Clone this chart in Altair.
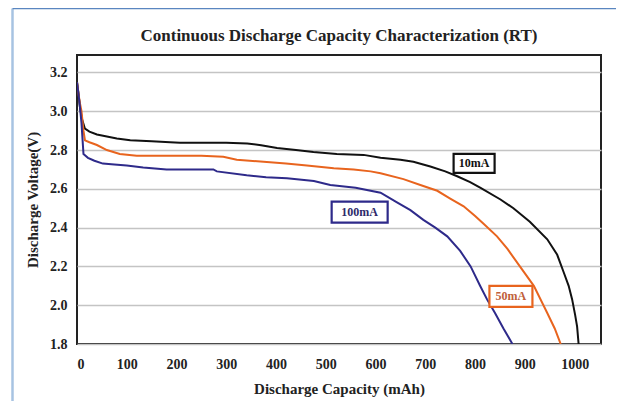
import altair as alt
import pandas as pd

# 10 mA discharge curve
cap_10 = [0, 3, 6, 10, 16, 25, 40, 60, 80, 107, 150, 187, 207, 250, 300, 342, 370, 402, 440, 475,
          522, 576, 610, 650, 676, 710, 740, 764, 790, 811, 851, 877, 910, 945, 965, 978, 988, 995,
          1001, 1005, 1008]
volt_10 = [3.15, 3.09, 3.02, 2.96, 2.91, 2.895, 2.88, 2.87, 2.86, 2.85, 2.845, 2.84, 2.838, 2.838,
           2.838, 2.834, 2.825, 2.81, 2.80, 2.79, 2.78, 2.775, 2.76, 2.75, 2.74, 2.715, 2.69, 2.665,
           2.635, 2.605, 2.545, 2.50, 2.43, 2.34, 2.26, 2.17, 2.10, 2.03, 1.95, 1.89, 1.80]

# 50 mA discharge curve
cap_50 = [0, 3, 6, 9, 13, 16, 25, 40, 60, 86, 120, 160, 207, 250, 294, 321, 375, 420, 462, 516,
          556, 590, 610, 656, 690, 724, 750, 777, 800, 817, 844, 865, 890, 918, 945, 960, 972]
volt_50 = [3.15, 3.09, 3.04, 3.00, 2.90, 2.85, 2.84, 2.826, 2.80, 2.78, 2.77, 2.77, 2.77, 2.77,
           2.765, 2.75, 2.74, 2.73, 2.72, 2.706, 2.70, 2.69, 2.68, 2.65, 2.62, 2.59, 2.55, 2.51,
           2.46, 2.42, 2.355, 2.29, 2.20, 2.10, 1.96, 1.88, 1.80]

# 100 mA discharge curve
cap_100 = [0, 3, 6, 9, 13, 22, 35, 52, 75, 100, 133, 180, 227, 274, 281, 341, 380, 422, 476, 509,
           560, 610, 643, 670, 696, 720, 744, 770, 791, 810, 824, 840, 857, 875]
volt_100 = [3.15, 3.09, 3.02, 2.94, 2.78, 2.76, 2.745, 2.73, 2.725, 2.72, 2.71, 2.70, 2.70, 2.70,
            2.69, 2.67, 2.66, 2.655, 2.64, 2.62, 2.605, 2.58, 2.53, 2.49, 2.44, 2.40, 2.355, 2.28,
            2.20, 2.10, 2.03, 1.96, 1.88, 1.80]

series_names = ["10mA", "50mA", "100mA"]
series_colors = ["#111111", "#E8641E", "#2E2A8A"]

# annotation labels (anchor positions in data units)
label_text = ["10mA", "100mA", "50mA"]
label_cap = [798, 568, 872]
label_volt = [2.731, 2.48, 2.046]

x_ticks = [0, 100, 200, 300, 400, 500, 600, 700, 800, 900, 1000]
y_ticks = [1.8, 2.0, 2.2, 2.4, 2.6, 2.8, 3.0, 3.2]

title_text = ["Continuous Discharge Capacity Characterization (RT)"]

rows = []
for name, caps, volts in [("10mA", cap_10, volt_10), ("50mA", cap_50, volt_50),
                          ("100mA", cap_100, volt_100)]:
    for i, (c, v) in enumerate(zip(caps, volts)):
        rows.append({"series": name, "cap": c, "volt": v, "order": i})
df = pd.DataFrame(rows)

FONT = "Liberation Serif"

xscale = alt.Scale(domain=[0, 1053], nice=False, zero=False)
yscale = alt.Scale(domain=[1.8, 3.29], nice=False, zero=False)

x_enc = alt.X("cap:Q", scale=xscale,
              axis=alt.Axis(title="Discharge Capacity (mAh)", values=x_ticks, grid=False,
                            ticks=False, domain=False, labelPadding=13, titlePadding=10,
                            labelFontSize=14, titleFontSize=15, format="d"))
y_enc = alt.Y("volt:Q", scale=yscale,
              axis=alt.Axis(title="Discharge  Voltage(V)", values=y_ticks, grid=True,
                            gridColor="#c4c4c4", gridWidth=1.5, ticks=False, domain=False,
                            labelPadding=10, titlePadding=9, labelFontSize=14,
                            titleFontSize=15, format=".1f"))

lines = alt.Chart(df).mark_line(strokeWidth=2, clip=True).encode(
    x=x_enc,
    y=y_enc,
    color=alt.Color("series:N", scale=alt.Scale(domain=series_names, range=series_colors),
                    legend=None),
    order="order:Q",
)

lab_df = pd.DataFrame({"label": label_text, "cap": label_cap, "volt": label_volt})
label_colors = {"10mA": "#111111", "50mA": "#E8641E", "100mA": "#2E2A8A"}
box_size = {"10mA": (41, 19), "50mA": (43, 21), "100mA": (56, 21)}
text_colors = {"10mA": "#111111", "50mA": "#C0603A", "100mA": "#2E2A6A"}

layers = [lines]
for name in label_text:
    w, h = box_size[name]
    r = h / w
    path = f"M-1,-{r:.3f}H1V{r:.3f}H-1Z"
    sub = alt.Chart(lab_df).transform_filter(alt.datum.label == name)
    box = sub.mark_point(shape=path, size=w * w, filled=False, fill="white", fillOpacity=1,
                         stroke=label_colors[name], strokeWidth=2.2, opacity=1).encode(
        x=alt.X("cap:Q", scale=xscale), y=alt.Y("volt:Q", scale=yscale))
    txt = sub.mark_text(font=FONT, fontWeight="bold", fontSize=12,
                        color=text_colors[name]).encode(
        x=alt.X("cap:Q", scale=xscale), y=alt.Y("volt:Q", scale=yscale), text="label:N")
    layers += [box, txt]

# chart title drawn as a text mark above the plot
title_df = pd.DataFrame({"t": title_text})
title_mark = alt.Chart(title_df).mark_text(
    font=FONT, fontWeight="bold", fontSize=17, color="#222222", align="center",
    baseline="alphabetic").encode(x=alt.value(262), y=alt.value(-14), text="t:N")
layers.append(title_mark)

# decorative outer frame of the figure
frame_left = alt.Chart(title_df).mark_rule(color="#a7c3e2", strokeWidth=2.5).encode(
    x=alt.value(-64.5), y=alt.value(-46.5), y2=alt.value(360))
frame_top = alt.Chart(title_df).mark_rule(color="#5a86c0", strokeWidth=1.5).encode(
    x=alt.value(-64.5), x2=alt.value(560), y=alt.value(-46.5))
layers += [frame_left, frame_top]

chart = alt.layer(*layers).properties(
    width=524, height=289,
    autosize=alt.AutoSizeParams(type="none"),
    padding={"left": 69, "top": 47, "right": 15, "bottom": 60},
    background="white",
).configure_view(stroke="#222222", strokeWidth=2).configure_axis(
    labelFont=FONT, titleFont=FONT, labelFontWeight="bold", titleFontWeight="bold",
    labelColor="#222222", titleColor="#222222",
)

chart.save("out.html", embed_options={"renderer": "svg", "actions": False})
